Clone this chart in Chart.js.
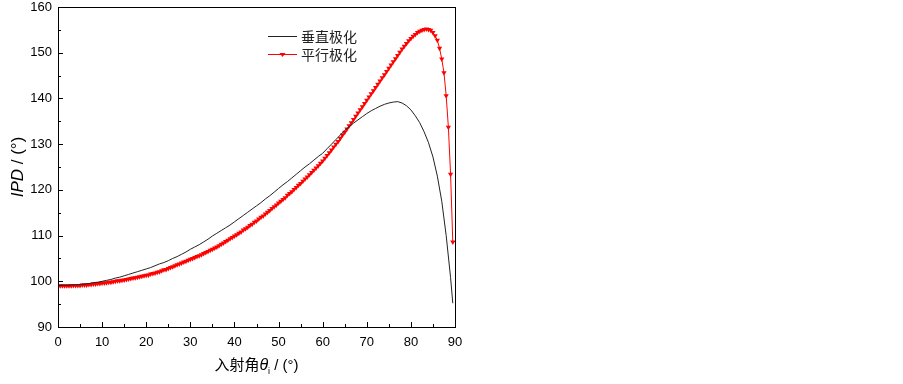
<!DOCTYPE html>
<html>
<head>
<meta charset="utf-8">
<script src="https://cdn.jsdelivr.net/npm/chart.js@4.4.1/dist/chart.umd.min.js"></script>
<style>
  html, body { margin: 0; padding: 0; background: #fff; }
  #wrap { width: 903px; height: 384px; }
</style>
</head>
<body>
<div id="wrap"><canvas id="ipdChart" width="903" height="384"></canvas></div>
<script>
// 垂直极化 (black line), 1 deg steps
const perpAngles = [0,1,2,3,4,5,6,7,8,9,10,11,12,13,14,15,16,17,18,19,20,21,22,23,24,25,26,27,28,29,
  30,31,32,33,34,35,36,37,38,39,40,41,42,43,44,45,46,47,48,49,50,51,52,53,54,55,56,57,58,59,
  60,61,62,63,64,65,66,67,68,69,70,71,72,73,74,75,76,77,78,79,80,81,82,83,84,85,86,87,88,89,89.5];
const perpIPD = [99.1,99.1,99.1,99.2,99.2,99.3,99.4,99.5,99.7,99.8,100.0,100.2,100.4,100.7,100.9,
  101.2,101.5,101.8,102.1,102.4,102.7,103.0,103.4,103.8,104.1,104.5,105.0,105.4,105.9,106.4,
  107.0,107.5,108.0,108.6,109.2,109.9,110.5,111.1,111.7,112.3,113.0,113.7,114.4,115.1,115.8,
  116.5,117.2,118.0,118.7,119.5,120.3,121.1,121.8,122.6,123.4,124.2,125.0,125.7,126.5,127.3,
  128.0,129.0,130.0,131.0,132.0,133.0,133.8,134.6,135.3,136.0,136.7,137.3,137.8,138.3,138.7,
  139.0,139.2,139.3,139.0,138.4,137.5,136.2,134.7,132.7,130.3,127.2,123.0,117.5,110.0,100.8,95.2];

// 平行极化 (red line with markers), 0.5 deg steps
const parAngles = [0,0.5,1,1.5,2,2.5,3,3.5,4,4.5,5,5.5,6,6.5,7,7.5,8,8.5,9,9.5,
  10,10.5,11,11.5,12,12.5,13,13.5,14,14.5,15,15.5,16,16.5,17,17.5,18,18.5,19,19.5,
  20,20.5,21,21.5,22,22.5,23,23.5,24,24.5,25,25.5,26,26.5,27,27.5,28,28.5,29,29.5,
  30,30.5,31,31.5,32,32.5,33,33.5,34,34.5,35,35.5,36,36.5,37,37.5,38,38.5,39,39.5,
  40,40.5,41,41.5,42,42.5,43,43.5,44,44.5,45,45.5,46,46.5,47,47.5,48,48.5,49,49.5,
  50,50.5,51,51.5,52,52.5,53,53.5,54,54.5,55,55.5,56,56.5,57,57.5,58,58.5,59,59.5,
  60,60.5,61,61.5,62,62.5,63,63.5,64,64.5,65,65.5,66,66.5,67,67.5,68,68.5,69,69.5,
  70,70.5,71,71.5,72,72.5,73,73.5,74,74.5,75,75.5,76,76.5,77,77.5,78,78.5,79,79.5,
  80,80.5,81,81.5,82,82.5,83,83.5,84,84.5,85,85.5,86,86.5,87,87.5,88,88.5,89,89.5];
const parIPD = [99.0,99.0,99.0,99.0,99.0,99.0,99.0,99.1,99.1,99.1,99.1,99.2,99.2,99.2,99.3,99.3,99.4,99.4,99.5,99.5,
  99.6,99.6,99.7,99.8,99.8,99.9,100.0,100.1,100.1,100.2,100.3,100.4,100.5,100.6,100.7,100.8,100.9,101.0,101.1,101.2,
  101.3,101.4,101.6,101.7,101.8,102.0,102.1,102.3,102.5,102.6,102.8,103.0,103.2,103.4,103.6,103.8,104.0,104.2,104.4,104.6,
  104.8,105.0,105.2,105.4,105.6,105.8,106.1,106.3,106.5,106.8,107.0,107.3,107.5,107.8,108.1,108.4,108.7,109.0,109.3,109.6,
  109.9,110.2,110.5,110.8,111.2,111.5,111.8,112.2,112.5,112.9,113.2,113.6,114.0,114.3,114.7,115.1,115.5,115.9,116.3,116.7,
  117.1,117.5,117.9,118.3,118.8,119.2,119.6,120.1,120.5,121.0,121.4,121.9,122.4,122.8,123.3,123.8,124.3,124.8,125.3,125.8,
  126.3,126.9,127.5,128.1,128.7,129.4,130.0,130.6,131.3,132.0,132.6,133.3,134.0,134.7,135.4,136.1,136.8,137.5,138.2,138.9,
  139.6,140.3,141.0,141.7,142.4,143.1,143.8,144.5,145.2,145.9,146.6,147.3,148.0,148.7,149.4,150.1,150.8,151.4,152.0,152.6,
  153.1,153.6,154.0,154.4,154.7,154.9,155.1,155.2,155.1,154.9,154.4,153.7,152.7,151.0,148.6,145.6,140.6,133.7,123.4,108.6];

const seriesNames = ['垂直极化', '平行极化'];
const xTicks = [0, 10, 20, 30, 40, 50, 60, 70, 80, 90];
const yTicks = [90, 100, 110, 120, 130, 140, 150, 160];

const tickFont = { family: 'Liberation Sans, Arial, sans-serif', size: 13 };

// frame, inward ticks, axis titles, legend
const decorations = {
  id: 'decorations',
  afterDraw(chart) {
    const c = chart.ctx;
    const a = chart.chartArea;
    const xs = chart.scales.x, ys = chart.scales.y;
    c.save();
    c.strokeStyle = '#000';
    c.lineWidth = 1;
    c.strokeRect(Math.round(a.left) + 0.5, Math.round(a.top) + 0.5,
      Math.round(a.right - a.left), Math.round(a.bottom - a.top));

    c.beginPath();
    for (let v = xTicks[0]; v <= xTicks[xTicks.length - 1]; v += 5) {
      const px = Math.round(xs.getPixelForValue(v)) + 0.5;
      const len = v % 10 === 0 ? 5 : 3;
      c.moveTo(px, a.bottom);
      c.lineTo(px, a.bottom - len);
    }
    for (let v = yTicks[0]; v <= yTicks[yTicks.length - 1]; v += 5) {
      const py = Math.round(ys.getPixelForValue(v)) + 0.5;
      const len = v % 10 === 0 ? 5 : 3;
      c.moveTo(a.left, py);
      c.lineTo(a.left + len, py);
    }
    c.stroke();

    // x title: 入射角θi / (°)
    c.fillStyle = '#000';
    c.textBaseline = 'alphabetic';
    const cx = (a.left + a.right) / 2;
    const by = 370;
    const f1 = '15px "Noto Sans CJK SC", sans-serif';
    const f2 = 'italic 16px "Liberation Sans", Arial, sans-serif';
    const f3 = '9px "Liberation Sans", Arial, sans-serif';
    const f4 = '15px "Liberation Sans", Arial, sans-serif';
    c.font = f1; const w1 = c.measureText('入射角').width;
    c.font = f2; const w2 = c.measureText('θ').width;
    c.font = f3; const w3 = c.measureText('i').width;
    c.font = f4; const w4 = c.measureText(' / (°)').width;
    let x = cx - (w1 + w2 + w3 + w4) / 2;
    c.textAlign = 'left';
    c.font = f1; c.fillText('入射角', x, by); x += w1;
    c.font = f2; c.fillText('θ', x, by); x += w2;
    c.font = f3; c.fillText('i', x, by + 4); x += w3;
    c.font = f4; c.fillText(' / (°)', x, by);

    // y title: IPD / (°)
    c.save();
    c.translate(23, (a.top + a.bottom) / 2);
    c.rotate(-Math.PI / 2);
    const g1 = 'italic 17px "Liberation Sans", Arial, sans-serif';
    const g2 = '17px "Liberation Sans", Arial, sans-serif';
    c.font = g1; const u1 = c.measureText('IPD').width;
    c.font = g2; const u2 = c.measureText(' / (°)').width;
    let y = -(u1 + u2) / 2;
    c.font = g1; c.fillText('IPD', y, 0); y += u1;
    c.font = g2; c.fillText(' / (°)', y, 0);
    c.restore();

    // legend
    const lx = a.left + 210, rows = [36, 54];
    chart.data.datasets.forEach((ds, i) => {
      const ly = rows[i] + 0.5;
      c.strokeStyle = ds.borderColor;
      c.beginPath();
      c.moveTo(lx, ly);
      c.lineTo(lx + 29, ly);
      c.stroke();
      if (ds.pointRadius > 0) {
        c.fillStyle = ds.pointBackgroundColor;
        c.beginPath();
        c.moveTo(lx + 11.5, ly - 1.5);
        c.lineTo(lx + 17.5, ly - 1.5);
        c.lineTo(lx + 14.5, ly + 2.5);
        c.closePath();
        c.fill();
      }
      c.fillStyle = '#222';
      c.font = '14px "Noto Sans CJK SC", sans-serif';
      c.textBaseline = 'middle';
      c.fillText(ds.label, lx + 33, ly);
    });
    c.restore();
  }
};

new Chart(document.getElementById('ipdChart').getContext('2d'), {
  type: 'line',
  data: {
    datasets: [
      {
        label: seriesNames[0],
        data: perpAngles.map((t, i) => ({ x: t, y: perpIPD[i] })),
        borderColor: '#222',
        borderWidth: 1,
        pointRadius: 0,
        tension: 0
      },
      {
        label: seriesNames[1],
        data: parAngles.map((t, i) => ({ x: t, y: parIPD[i] })),
        borderColor: '#ff0000',
        borderWidth: 1,
        pointRadius: 3,
        pointStyle: 'triangle',
        rotation: 180,
        pointBackgroundColor: '#ff0000',
        pointBorderColor: '#ff0000',
        pointBorderWidth: 0,
        tension: 0
      }
    ]
  },
  options: {
    responsive: false,
    animation: false,
    layout: { padding: { left: 0, top: 7, right: 448, bottom: 0 } },
    plugins: { legend: { display: false }, tooltip: { enabled: false } },
    scales: {
      x: {
        type: 'linear',
        min: xTicks[0],
        max: xTicks[xTicks.length - 1],
        afterBuildTicks: s => { s.ticks = xTicks.map(v => ({ value: v })); },
        grid: { display: false, drawTicks: false },
        border: { display: false },
        ticks: { color: '#000', font: tickFont, padding: 8, maxRotation: 0 },
        afterFit: s => { s.height = 57; s.paddingLeft = 0; s.paddingRight = 0; }
      },
      y: {
        min: yTicks[0],
        max: yTicks[yTicks.length - 1],
        afterBuildTicks: s => { s.ticks = yTicks.map(v => ({ value: v })); },
        grid: { display: false, drawTicks: false },
        border: { display: false },
        ticks: { color: '#000', font: tickFont, padding: 6 },
        afterFit: s => { s.width = 58; s.paddingTop = 0; s.paddingBottom = 0; }
      }
    }
  },
  plugins: [decorations]
});
</script>
</body>
</html>
